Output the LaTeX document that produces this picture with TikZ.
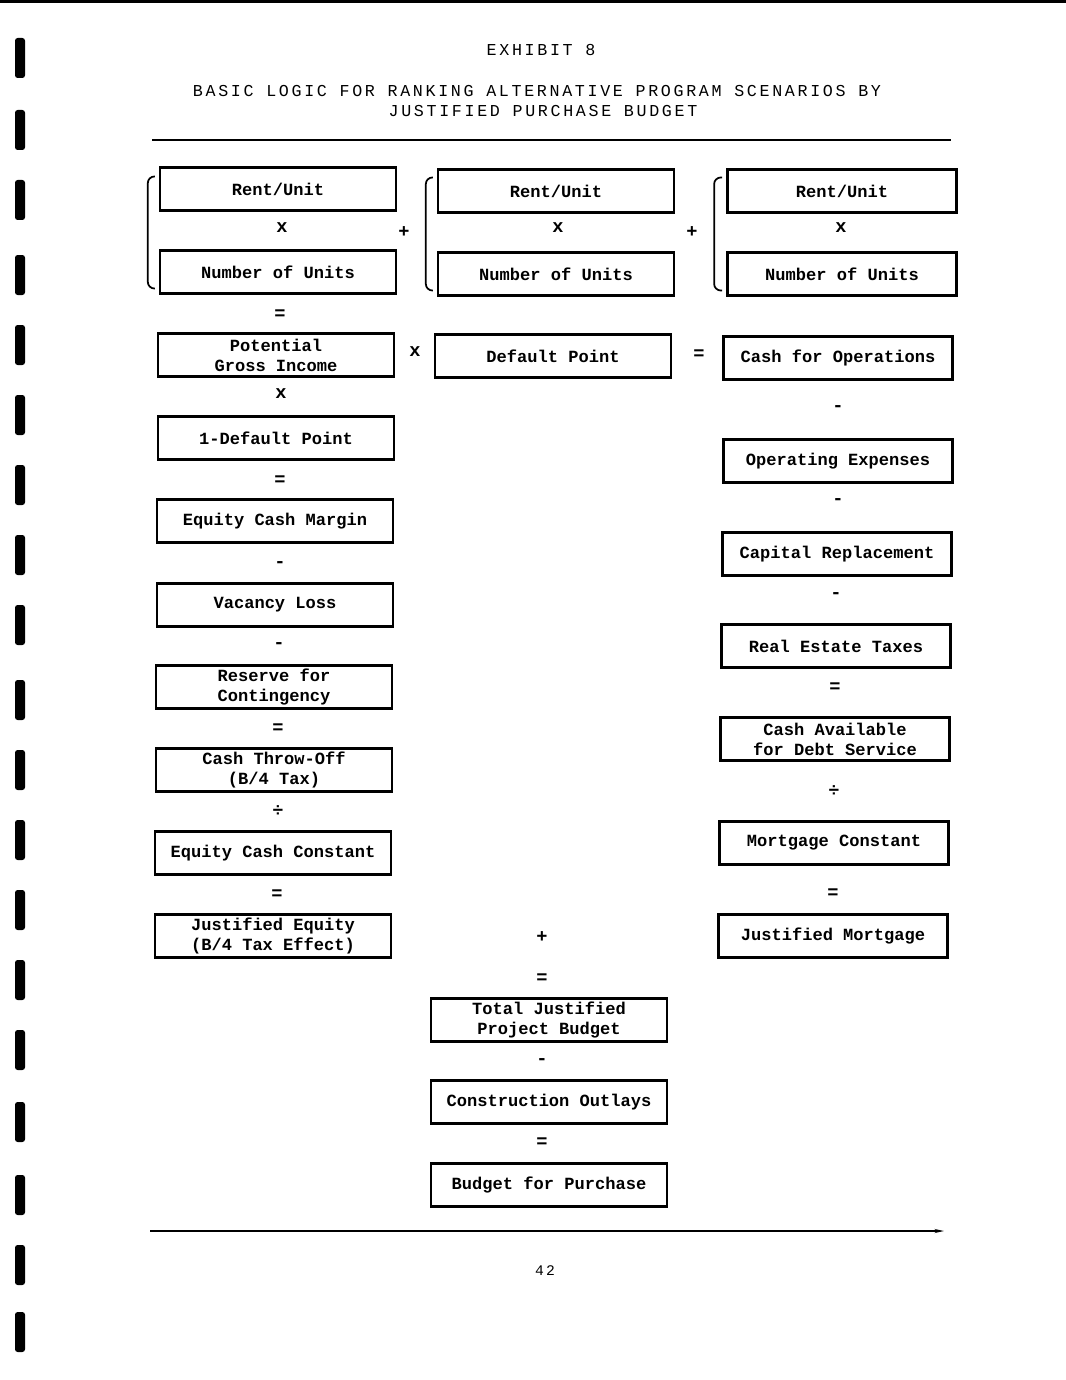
\documentclass[tikz,border=0pt]{standalone}
\usepackage{fontspec}
\setmonofont{Liberation Mono}
\newfontfamily\headfont[LetterSpace=16]{Liberation Mono}
\usetikzlibrary{calc,arrows.meta}
\tikzset{
  termbox/.style={draw, line width=1.8pt, minimum width=177pt, minimum height=32pt,
    inner sep=0pt, align=center, font=\ttfamily\bfseries\fontsize{12.8}{15}\selectfont},
  narrowbox/.style={termbox, minimum width=172pt},
  opsym/.style={inner sep=0pt, font=\ttfamily\bfseries\fontsize{14}{16}\selectfont},
  bracket/.style={line width=1.3pt, rounded corners=5pt}
}
\begin{document}
\begin{tikzpicture}[x=0.75pt,y=-0.75pt]
\useasboundingbox (0,0) rectangle (1066,1380);
% scan edge and binding marks
\fill (0,0) rectangle (1066,3);
\foreach \yy in {58,130,200,275,345,415,485,555,625,700,770,840,910,980,1050,1122,1195,1265,1332}
  \fill[rounded corners=2pt] (15,\yy-20) rectangle (25,\yy+20);
% heading
\node (exhibit) at (541,50) {\headfont\fontsize{12.5}{15}\selectfont EXHIBIT 8};
\node (titleA) at (537,91) {\headfont\fontsize{12.5}{15}\selectfont BASIC LOGIC FOR RANKING ALTERNATIVE PROGRAM SCENARIOS BY};
\node (titleB) at (543,111) {\headfont\fontsize{12.5}{15}\selectfont JUSTIFIED PURCHASE BUDGET};
\draw[line width=1.1pt] (152,140) -- (951,140);
% three rent groups
\node[termbox] (rentA) at (278,189) {Rent/Unit};
\node[opsym] (timesA) at (282,228) {x};
\node[termbox] (unitsA) at (278,272) {Number of Units};
\node[opsym] (plusAB) at (404,232) {+};
\node[termbox] (rentB) at (556,191) {Rent/Unit};
\node[opsym] (timesB) at (558,228) {x};
\node[termbox] (unitsB) at (556,274) {Number of Units};
\node[opsym] (plusBC) at (692,232) {+};
\node[narrowbox] (rentC) at (842,191) {Rent/Unit};
\node[opsym] (timesC) at (841,228) {x};
\node[narrowbox] (unitsC) at (842,274) {Number of Units};
\draw[bracket] ($(rentA.north west)+(-4,10)$) -- ++(-7,0) |- ($(unitsA.south west)+(-4,-6)$);
\draw[bracket] ($(rentB.north west)+(-4,9)$) -- ++(-7,0) |- ($(unitsB.south west)+(-4,-6)$);
\draw[bracket] ($(rentC.north west)+(-4,9)$) -- ++(-8,0) |- ($(unitsC.south west)+(-4,-6)$);
\node[opsym] (eqGross) at (280,315) {=};
% second row
\node[termbox] (gross) at (276,355) {Potential\\Gross Income};
\node[opsym] (timesGD) at (415,352) {x};
\node[termbox] (dflt) at (553,356) {Default Point};
\node[opsym] (eqOps) at (699,355) {=};
\node[narrowbox] (cashops) at (838,358) {Cash for Operations};
% equity column
\node[opsym] (timesOne) at (281,394) {x};
\node[termbox] (onedflt) at (276,438) {1-Default Point};
\node[opsym] (eqMargin) at (280,481) {=};
\node[termbox] (margin) at (275,521) {Equity Cash Margin};
\node[opsym] (minVac) at (280,565) {-};
\node[termbox] (vacancy) at (275,605) {Vacancy Loss};
\node[opsym] (minRes) at (279,646) {-};
\node[termbox] (reserve) at (274,687) {Reserve for\\Contingency};
\node[opsym] (eqThrow) at (278,729) {=};
\node[termbox] (throwoff) at (274,770) {Cash Throw-Off\\(B/4 Tax)};
\node[opsym] (divEq) at (278,811) {÷};
\node[termbox] (eqconst) at (273,853) {Equity Cash Constant};
\node[opsym] (eqJust) at (277,895) {=};
\node[termbox] (justeq) at (273,936) {Justified Equity\\(B/4 Tax Effect)};
% mortgage column
\node[opsym] (minOpx) at (838,409) {-};
\node[narrowbox] (opex) at (838,461) {Operating Expenses};
\node[opsym] (minCap) at (838,502) {-};
\node[narrowbox] (capital) at (837,554) {Capital Replacement};
\node[opsym] (minTax) at (836,596) {-};
\node[narrowbox] (taxes) at (836,646) {Real Estate Taxes};
\node[opsym] (eqDebt) at (835,688) {=};
\node[narrowbox] (debtcash) at (835,739) {Cash Available\\for Debt Service};
\node[opsym] (divMc) at (834,791) {÷};
\node[narrowbox] (mortconst) at (834,843) {Mortgage Constant};
\node[opsym] (eqMort) at (833,894) {=};
\node[narrowbox] (justmort) at (833,936) {Justified Mortgage};
% budget
\node[opsym] (plusJust) at (542,937) {+};
\node[opsym] (eqTotal) at (542,979) {=};
\node[termbox] (total) at (549,1020) {Total Justified\\Project Budget};
\node[opsym] (minCons) at (542,1062) {-};
\node[termbox] (outlays) at (549,1102) {Construction Outlays};
\node[opsym] (eqBudget) at (542,1143) {=};
\node[termbox] (purchase) at (549,1185) {Budget for Purchase};
% foot
\draw[line width=1.4pt, -{Stealth[length=7pt,width=3pt]}] (150,1231) -- (944,1231);
\node (pagenum) at (545,1271) {\headfont\fontsize{11}{13}\selectfont 42};
\end{tikzpicture}
\end{document}
